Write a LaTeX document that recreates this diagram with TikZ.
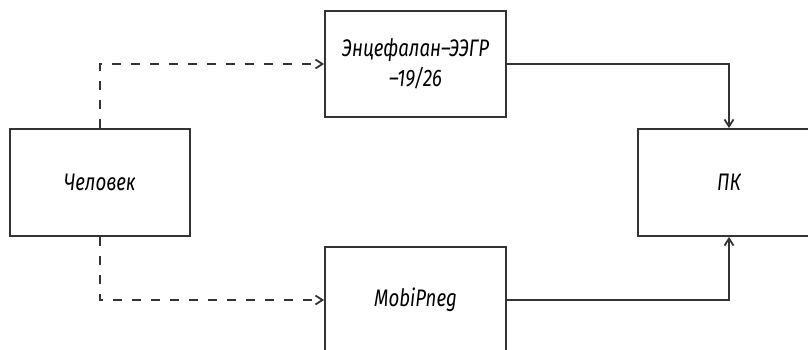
\documentclass[tikz,border=0pt]{standalone}
\usepackage{fontspec}
\newfontfamily\gost{Fira Sans Italic}[FakeStretch=0.78]
\usetikzlibrary{arrows.meta}
\tikzset{
  block/.style={draw=black!80, line width=1.8bp, inner sep=0pt, align=center,
    font=\gost\fontsize{24}{30}\selectfont},
  link/.style={draw=black!80, line width=1.8bp, -{Straight Barb[length=7bp,width=9bp]}},
  dlink/.style={link, dash pattern=on 9bp off 10bp}
}
\begin{document}
\begin{tikzpicture}[x=1bp,y=-1bp]
\useasboundingbox (0,0) rectangle (808,349);
\clip (0,0) rectangle (808,349);
\node[block, minimum width=180bp, minimum height=107bp] (hum) at (100,182.5) {Человек};
\node[block, minimum width=181bp, minimum height=106bp] (eeg) at (415.5,64) {Энцефалан–ЭЭГР\\–19/26};
\node[block, minimum width=181bp, minimum height=106bp] (mob) at (415.5,300) {MobiPneg};
\node[block, minimum width=182bp, minimum height=107bp] (pc) at (729,182.5) {ПК};
\draw[dlink] (hum.north) |- (eeg.west);
\draw[dlink] (hum.south) |- (mob.west);
\draw[link] (eeg.east) -| (pc.north);
\draw[link] (mob.east) -| (pc.south);
\end{tikzpicture}
\end{document}
